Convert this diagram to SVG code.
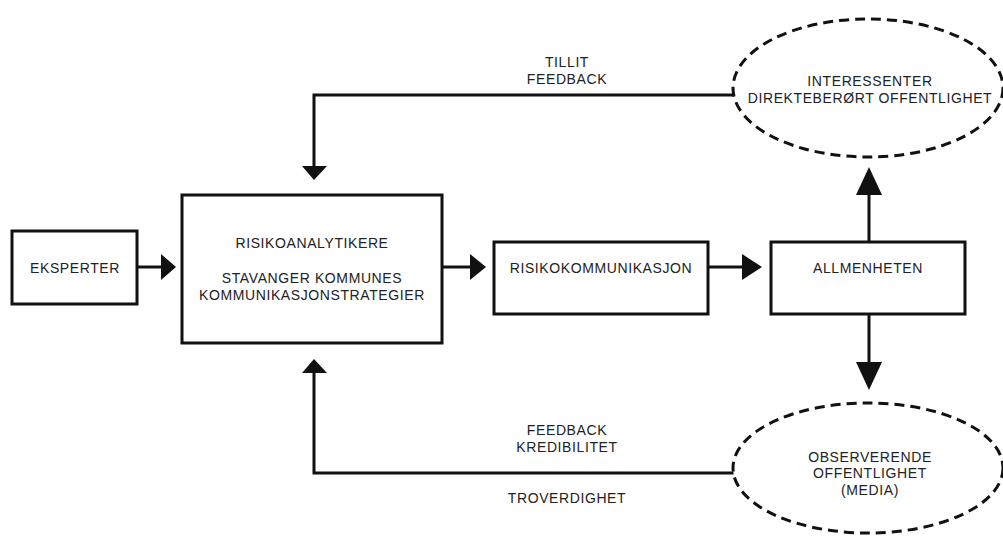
<svg xmlns="http://www.w3.org/2000/svg" width="1003" height="543" viewBox="0 0 1003 543">
<style>
.box{fill:#fff;stroke:#111;stroke-width:3}
.ell{fill:#fff;stroke:#111;stroke-width:3;stroke-dasharray:10 6}
.ln{fill:none;stroke:#111;stroke-width:3}
.ah{fill:#111;stroke:none}
text{font-family:"Liberation Sans",Arial,sans-serif;font-size:14px;fill:#222;text-anchor:middle;letter-spacing:0.6px}
</style>
<rect width="1003" height="543" fill="#fff"/>
<g id="connectors">
<path class="ln" d="M137,267 H162"/>
<polygon class="ah" points="161,254 176,267 161,280"/>
<path class="ln" d="M442,267 H471"/>
<polygon class="ah" points="470,254 486,267 470,280"/>
<path class="ln" d="M708,267 H743"/>
<polygon class="ah" points="742,254 762,267 742,280"/>
<path class="ln" d="M869,242 V194"/>
<polygon class="ah" points="856,195 869,167 882,195"/>
<path class="ln" d="M869,314 V363"/>
<polygon class="ah" points="856,362 869,390 882,362"/>
<path class="ln" d="M734,95 H314 V167"/>
<polygon class="ah" points="302,166 314,180 327,166"/>
<path class="ln" d="M735,473 H314 V372"/>
<polygon class="ah" points="302,373 314,359 327,373"/>
<text x="567" y="67">TILLIT</text>
<text x="567" y="84">FEEDBACK</text>
<text x="567" y="435">FEEDBACK</text>
<text x="567" y="452">KREDIBILITET</text>
<text x="567" y="503">TROVERDIGHET</text>
</g>
<g id="eksperter">
<rect class="box" x="12" y="231" width="125" height="73"/>
<text x="75" y="273">EKSPERTER</text>
</g>
<g id="risikoanalytikere">
<rect class="box" x="182" y="195" width="260" height="148"/>
<text x="312" y="248">RISIKOANALYTIKERE</text>
<text x="312" y="283">STAVANGER KOMMUNES</text>
<text x="312" y="300">KOMMUNIKASJONSTRATEGIER</text>
</g>
<g id="risikokommunikasjon">
<rect class="box" x="494" y="242" width="214" height="72"/>
<text x="601" y="273">RISIKOKOMMUNIKASJON</text>
</g>
<g id="allmenheten">
<rect class="box" x="771" y="242" width="194" height="72"/>
<text x="868" y="273">ALLMENHETEN</text>
</g>
<g id="interessenter">
<ellipse class="ell" cx="868" cy="88" rx="135" ry="69"/>
<text x="870" y="86">INTERESSENTER</text>
<text x="870" y="103">DIREKTEBERØRT OFFENTLIGHET</text>
</g>
<g id="observerende">
<ellipse class="ell" cx="868" cy="468" rx="135" ry="65"/>
<text x="870" y="462">OBSERVERENDE</text>
<text x="870" y="478">OFFENTLIGHET</text>
<text x="870" y="495">(MEDIA)</text>
</g>
</svg>
